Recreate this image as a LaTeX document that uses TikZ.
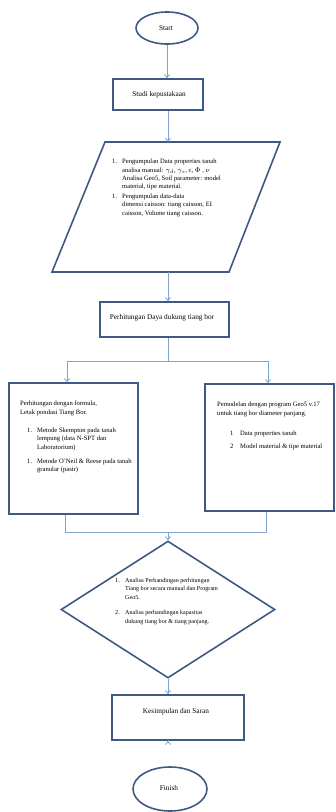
\documentclass[tikz,border=0pt]{standalone}
\usepackage{fontspec}
\setmainfont{Liberation Serif}
\usetikzlibrary{shapes.geometric,arrows.meta}
\definecolor{edgeblue}{HTML}{3E5A82}
\definecolor{connblue}{HTML}{7FA3CF}
\tikzset{
  shapeline/.style={draw=edgeblue, line width=1.6pt},
  boxshape/.style={shapeline, rectangle, inner sep=0pt},
  termshape/.style={shapeline, ellipse, inner sep=0pt},
  connline/.style={draw=connblue, line width=0.9pt},
  arr/.style={connline, -{Straight Barb[length=3pt,width=5pt]}},
  bodytext/.style={inner sep=0pt, font=\fontsize{6.6}{8.3}\selectfont, align=left, anchor=north west},
  titletext/.style={inner sep=0pt, font=\fontsize{7.3}{8}\selectfont},
}
\newcommand\numbox[1]{\makebox[10pt][l]{#1}}
\begin{document}
\begin{tikzpicture}[x=1pt,y=-1pt]
\useasboundingbox (0,0) rectangle (335,812);

% terminals and boxes
\node[termshape, minimum width=62pt, minimum height=32pt] (start) at (167,28) {};
\node[titletext] (starttxt) at (166,28) {Start};

\node[boxshape, minimum width=90pt, minimum height=31pt] (studi) at (158,94.5) {};
\node[titletext] (studitxt) at (159,95) {Studi kepustakaan};

% parallelogram
\coordinate (ptl) at (105,142);
\coordinate (ptr) at (280,142);
\coordinate (pbr) at (229,272);
\coordinate (pbl) at (52,272);
\coordinate (ptop) at (168,142);
\coordinate (pbot) at (168,272);
\draw[shapeline, line join=miter] (ptl) -- (ptr) -- (pbr) -- (pbl) -- cycle;
\node[bodytext] (paratxt) at (112,159) {%
\numbox{1.}Pengumpulan Data properties tanah\\
\hspace*{10pt}analisa manual: $\gamma_d$, $\gamma_s$, c, $\Phi$ , $\nu$\\
\hspace*{10pt}Analisa Geo5, Soil parameter: model\\
\hspace*{10pt}material, tipe material.\\[1.5pt]
\numbox{1.}Pengumpulan data-data\\
\hspace*{10pt}dimensi caisson: tiang caisson, EI\\
\hspace*{10pt}caisson, Volume tiang caisson.};

\node[boxshape, minimum width=129pt, minimum height=35pt] (daya) at (164.5,319.5) {};
\node[titletext] (dayatxt) at (162,318) {Perhitungan Daya dukung tiang bor};

% branch boxes
\node[boxshape, minimum width=129pt, minimum height=131pt] (leftbox) at (73.5,448.5) {};
\node[bodytext] (lefttxt) at (20,401) {%
Perhitungan dengan formula,\\
Letak pondasi Tiang Bor.\\[10pt]
\hspace*{7pt}\numbox{1.}Metode Skempton pada tanah\\
\hspace*{17pt}lempung (data N-SPT dan\\
\hspace*{17pt}Laboratorium)\\[6pt]
\hspace*{7pt}\numbox{1.}Metode O'Neil \& Reese pada tanah\\
\hspace*{17pt}granular (pasir)};

\node[boxshape, minimum width=129pt, minimum height=127pt] (rightbox) at (269.5,447.5) {};
\node[bodytext] (righttxt) at (217,402) {%
Pemodelan dengan program Geo5 v.17\\
untuk tiang bor diameter panjang.\\[12pt]
\hspace*{13pt}\numbox{1}Data properties tanah\\[5pt]
\hspace*{13pt}\numbox{2}Model material \& tipe material};

% decision
\node[shapeline, diamond, inner sep=0pt, minimum width=214pt, minimum height=137pt] (dia) at (168,609.5) {};
\node[bodytext, font=\fontsize{6.1}{8.5}\selectfont] (diatxt) at (115,578) {%
\numbox{1.}Analisa Perbandingan perhitungan\\
\hspace*{10pt}Tiang bor secara manual dan Program\\
\hspace*{10pt}Geo5.\\[7pt]
\numbox{2.}Analisa perbandingan kapasitas\\
\hspace*{10pt}dukung tiang bor \& tiang panjang.};

\node[boxshape, minimum width=132pt, minimum height=45pt] (kes) at (178,717.5) {};
\node[titletext] (kestxt) at (176,712) {Kesimpulan dan Saran};

\node[termshape, minimum width=74pt, minimum height=44pt] (finish) at (170,789) {};
\node[titletext] (finishtxt) at (169,788) {Finish};

% connectors
\draw[arr] (start.south) -- (start.south |- studi.north);
\draw[arr] (studi.south -| ptop) -- (ptop);
\draw[arr] (pbot) -- (pbot |- daya.north);
\coordinate (split) at (168,361);
\coordinate (splitl) at (67,361);
\coordinate (splitr) at (268,361);
\draw[connline] (split |- daya.south) -- (split);
\draw[connline] (splitl) -- (splitr);
\draw[arr] (splitl) -- (splitl |- leftbox.north);
\draw[arr] (splitr) -- (splitr |- rightbox.north);
\coordinate (joinl) at (65,532);
\coordinate (joinr) at (266,532);
\coordinate (joinm) at (168,532);
\draw[connline] (joinl |- leftbox.south) -- (joinl) -- (joinr) -- (joinr |- rightbox.south);
\draw[arr] (joinm) -- (dia.north);
\draw[arr] (dia.south) -- (dia.south |- kes.north);
\draw[arr] (kes.south -| dia.south) -- (kes.south -| dia.south |- finish.north);
\end{tikzpicture}
\end{document}
